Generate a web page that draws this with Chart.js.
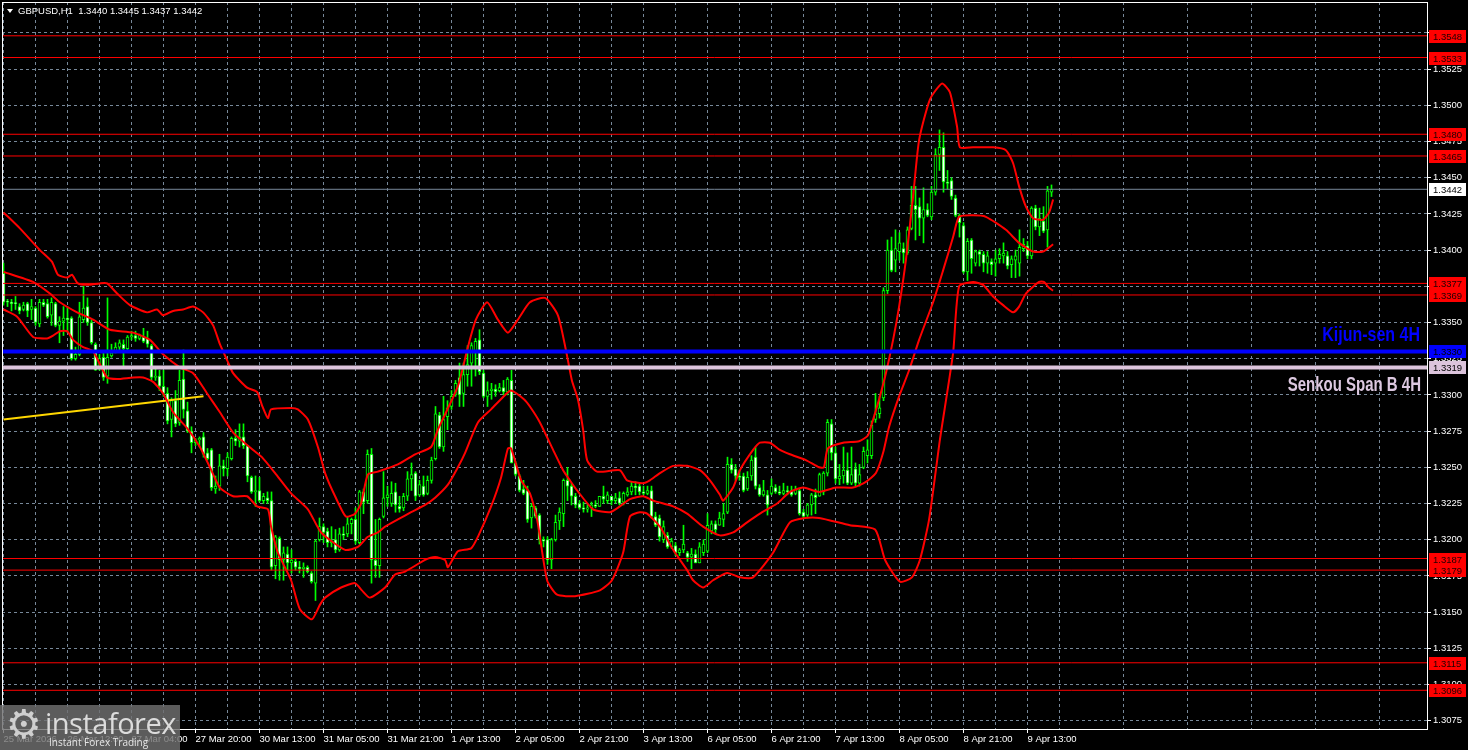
<!DOCTYPE html>
<html>
<head>
<meta charset="utf-8">
<script src="https://cdn.jsdelivr.net/npm/chart.js@4.4.1/dist/chart.umd.min.js"></script>
<style>
html, body { margin: 0; padding: 0; background: #000; }
#wrap { position: relative; width: 1468px; height: 750px; overflow: hidden; }
#logo { position: absolute; left: 0; top: 705px; width: 180px; height: 45px; background: rgba(112,112,112,0.82); }
#logo .gear { position: absolute; left: 6px; top: -4px; font: 40px "DejaVu Sans"; color: #cfcfcf; }
#logo .brand { position: absolute; left: 45px; top: -2px; font: 29px "Open Sans"; color: #dcdcdc; letter-spacing: -0.5px; }
#logo .tag { position: absolute; left: 49px; top: 30px; font: 10px "Open Sans"; color: #e6e6e6; }
</style>
</head>
<body>
<div id="wrap">
  <canvas id="myChart" width="1468" height="750"></canvas>
  <div id="logo"><span class="gear">&#9881;</span><span class="brand">instaforex</span><span class="tag">Instant Forex Trading</span></div>
</div>
<script>
// GBPUSD H1, one entry per bar
var opens = [
1.3384,1.3364,1.3364,1.3363,1.3361,1.3359,1.3363,1.3359,1.3360,1.3349,
1.3364,1.3363,1.3355,1.3363,1.3348,1.3351,1.3353,1.3353,1.3325,1.3328,
1.3352,1.3361,1.3350,1.3335,1.3318,1.3326,1.3313,1.3327,1.3330,1.3333,
1.3335,1.3332,1.3340,1.3341,1.3339,1.3340,1.3339,1.3334,1.3312,1.3313,
1.3306,1.3301,1.3283,1.3296,1.3281,1.3311,1.3289,1.3275,1.3267,1.3269,
1.3271,1.3260,1.3262,1.3235,1.3237,1.3251,1.3249,1.3256,1.3270,1.3268,
1.3271,1.3265,1.3243,1.3233,1.3234,1.3227,1.3229,1.3227,1.3182,1.3201,
1.3186,1.3190,1.3184,1.3185,1.3181,1.3180,1.3181,1.3177,1.3170,1.3200,
1.3209,1.3206,1.3198,1.3200,1.3193,1.3204,1.3204,1.3211,1.3214,1.3198,
1.3233,1.3227,1.3259,1.3186,1.3182,1.3216,1.3229,1.3225,1.3233,1.3223,
1.3222,1.3230,1.3242,1.3246,1.3231,1.3237,1.3232,1.3241,1.3256,1.3286,
1.3264,1.3285,1.3292,1.3300,1.3312,1.3301,1.3314,1.3322,1.3330,1.3338,
1.3315,1.3299,1.3303,1.3304,1.3303,1.3305,1.3302,1.3310,1.3253,1.3244,
1.3235,1.3234,1.3215,1.3222,1.3217,1.3200,1.3200,1.3186,1.3200,1.3213,
1.3218,1.3241,1.3237,1.3230,1.3225,1.3222,1.3221,1.3222,1.3224,1.3223,
1.3230,1.3227,1.3230,1.3227,1.3229,1.3226,1.3231,1.3233,1.3237,1.3237,
1.3233,1.3232,1.3234,1.3216,1.3215,1.3200,1.3203,1.3195,1.3196,1.3191,
1.3193,1.3191,1.3188,1.3190,1.3184,1.3191,1.3192,1.3206,1.3211,1.3210,
1.3214,1.3219,1.3252,1.3249,1.3244,1.3244,1.3235,1.3244,1.3257,1.3236,
1.3231,1.3231,1.3232,1.3236,1.3233,1.3232,1.3234,1.3234,1.3232,1.3234,
1.3219,1.3217,1.3224,1.3231,1.3230,1.3233,1.3246,1.3280,1.3260,1.3242,
1.3244,1.3248,1.3239,1.3249,1.3239,1.3250,1.3258,1.3258,1.3283,1.3287,
1.3298,1.3372,1.3400,1.3393,1.3399,1.3401,1.3398,1.3415,1.3431,1.3430,
1.3422,1.3428,1.3423,1.3440,1.3466,1.3471,1.3447,1.3448,1.3436,1.3424,
1.3417,1.3385,1.3407,1.3391,1.3399,1.3397,1.3391,1.3392,1.3391,1.3394,
1.3396,1.3396,1.3390,1.3393,1.3391,1.3401,1.3403,1.3396,1.3429,1.3416,
1.3420,1.3414,1.3440];
var highs = [
1.3391,1.3366,1.3366,1.3368,1.3363,1.3364,1.3364,1.3366,1.3361,1.3366,
1.3366,1.3366,1.3367,1.3364,1.3354,1.3361,1.3361,1.3354,1.3333,1.3364,
1.3375,1.3367,1.3352,1.3336,1.3328,1.3329,1.3367,1.3335,1.3336,1.3338,
1.3338,1.3341,1.3344,1.3344,1.3342,1.3346,1.3344,1.3335,1.3318,1.3317,
1.3317,1.3305,1.3298,1.3303,1.3317,1.3331,1.3295,1.3278,1.3270,1.3271,
1.3274,1.3263,1.3263,1.3244,1.3259,1.3255,1.3260,1.3271,1.3276,1.3280,
1.3280,1.3265,1.3244,1.3244,1.3243,1.3232,1.3233,1.3233,1.3203,1.3202,
1.3195,1.3195,1.3193,1.3187,1.3185,1.3184,1.3182,1.3178,1.3200,1.3215,
1.3211,1.3208,1.3209,1.3207,1.3208,1.3209,1.3216,1.3215,1.3222,1.3234,
1.3235,1.3262,1.3263,1.3214,1.3215,1.3247,1.3237,1.3240,1.3239,1.3230,
1.3232,1.3247,1.3253,1.3247,1.3241,1.3244,1.3244,1.3257,1.3292,1.3288,
1.3299,1.3296,1.3303,1.3310,1.3322,1.3322,1.3334,1.3336,1.3339,1.3345,
1.3317,1.3309,1.3308,1.3307,1.3308,1.3310,1.3312,1.3317,1.3254,1.3245,
1.3241,1.3237,1.3225,1.3223,1.3218,1.3202,1.3202,1.3201,1.3217,1.3222,
1.3242,1.3250,1.3239,1.3232,1.3227,1.3226,1.3225,1.3226,1.3227,1.3230,
1.3237,1.3233,1.3230,1.3232,1.3233,1.3233,1.3236,1.3240,1.3240,1.3239,
1.3237,1.3237,1.3237,1.3219,1.3217,1.3213,1.3205,1.3201,1.3198,1.3194,
1.3210,1.3192,1.3194,1.3193,1.3198,1.3200,1.3218,1.3213,1.3213,1.3219,
1.3225,1.3257,1.3256,1.3252,1.3248,1.3246,1.3247,1.3258,1.3264,1.3238,
1.3241,1.3234,1.3242,1.3238,1.3237,1.3239,1.3237,1.3237,1.3237,1.3235,
1.3221,1.3225,1.3232,1.3235,1.3246,1.3247,1.3283,1.3283,1.3264,1.3252,
1.3264,1.3260,1.3264,1.3253,1.3252,1.3264,1.3269,1.3282,1.3301,1.3299,
1.3374,1.3407,1.3409,1.3414,1.3412,1.3405,1.3416,1.3444,1.3444,1.3436,
1.3443,1.3432,1.3444,1.3470,1.3483,1.3481,1.3455,1.3450,1.3438,1.3425,
1.3419,1.3408,1.3408,1.3400,1.3400,1.3399,1.3399,1.3394,1.3400,1.3401,
1.3405,1.3399,1.3396,1.3400,1.3414,1.3408,1.3406,1.3430,1.3431,1.3429,
1.3430,1.3444,1.3445];
var lows = [
1.3362,1.3361,1.3358,1.3359,1.3356,1.3358,1.3354,1.3352,1.3348,1.3347,
1.3361,1.3353,1.3348,1.3347,1.3336,1.3341,1.3343,1.3324,1.3324,1.3327,
1.3350,1.3348,1.3335,1.3317,1.3317,1.3310,1.3308,1.3326,1.3329,1.3330,
1.3320,1.3331,1.3338,1.3337,1.3338,1.3336,1.3333,1.3310,1.3310,1.3303,
1.3299,1.3280,1.3271,1.3278,1.3279,1.3284,1.3274,1.3260,1.3265,1.3264,
1.3257,1.3255,1.3234,1.3232,1.3234,1.3244,1.3244,1.3255,1.3265,1.3264,
1.3263,1.3240,1.3232,1.3223,1.3226,1.3225,1.3225,1.3179,1.3173,1.3172,
1.3172,1.3179,1.3177,1.3179,1.3177,1.3174,1.3177,1.3170,1.3158,1.3199,
1.3198,1.3195,1.3195,1.3191,1.3192,1.3200,1.3202,1.3204,1.3197,1.3197,
1.3218,1.3225,1.3170,1.3174,1.3174,1.3215,1.3223,1.3223,1.3219,1.3219,
1.3220,1.3227,1.3234,1.3227,1.3230,1.3230,1.3231,1.3239,1.3255,1.3263,
1.3261,1.3276,1.3290,1.3299,1.3292,1.3292,1.3306,1.3306,1.3313,1.3314,
1.3298,1.3292,1.3297,1.3299,1.3302,1.3300,1.3300,1.3253,1.3244,1.3233,
1.3231,1.3212,1.3208,1.3215,1.3197,1.3195,1.3183,1.3180,1.3199,1.3207,
1.3209,1.3227,1.3224,1.3222,1.3221,1.3219,1.3219,1.3216,1.3222,1.3223,
1.3225,1.3225,1.3224,1.3225,1.3224,1.3224,1.3230,1.3231,1.3231,1.3231,
1.3231,1.3231,1.3215,1.3209,1.3199,1.3198,1.3194,1.3194,1.3189,1.3189,
1.3191,1.3185,1.3180,1.3184,1.3184,1.3189,1.3191,1.3204,1.3204,1.3210,
1.3209,1.3218,1.3246,1.3241,1.3241,1.3233,1.3234,1.3241,1.3235,1.3230,
1.3230,1.3217,1.3231,1.3232,1.3231,1.3231,1.3231,1.3230,1.3231,1.3217,
1.3215,1.3216,1.3217,1.3218,1.3230,1.3231,1.3244,1.3255,1.3239,1.3238,
1.3239,1.3238,1.3238,1.3237,1.3237,1.3249,1.3253,1.3256,1.3281,1.3284,
1.3296,1.3370,1.3385,1.3385,1.3393,1.3391,1.3397,1.3414,1.3407,1.3410,
1.3405,1.3423,1.3421,1.3438,1.3455,1.3440,1.3442,1.3435,1.3423,1.3409,
1.3384,1.3379,1.3384,1.3389,1.3389,1.3385,1.3384,1.3383,1.3382,1.3391,
1.3391,1.3387,1.3381,1.3381,1.3382,1.3399,1.3394,1.3394,1.3414,1.3410,
1.3412,1.3402,1.3437];
var closes = [
1.3364,1.3364,1.3363,1.3363,1.3358,1.3362,1.3358,1.3361,1.3350,1.3364,
1.3362,1.3354,1.3364,1.3348,1.3351,1.3353,1.3352,1.3325,1.3328,1.3354,
1.3360,1.3350,1.3336,1.3317,1.3325,1.3312,1.3326,1.3329,1.3333,1.3336,
1.3332,1.3340,1.3341,1.3339,1.3341,1.3337,1.3335,1.3312,1.3313,1.3306,
1.3301,1.3282,1.3296,1.3280,1.3310,1.3290,1.3275,1.3267,1.3269,1.3270,
1.3259,1.3256,1.3236,1.3237,1.3251,1.3249,1.3257,1.3270,1.3268,1.3271,
1.3265,1.3244,1.3233,1.3234,1.3227,1.3230,1.3227,1.3181,1.3202,1.3186,
1.3191,1.3184,1.3186,1.3181,1.3180,1.3181,1.3178,1.3171,1.3199,1.3209,
1.3205,1.3198,1.3199,1.3193,1.3204,1.3203,1.3211,1.3214,1.3199,1.3233,
1.3226,1.3259,1.3186,1.3182,1.3214,1.3229,1.3231,1.3232,1.3224,1.3221,
1.3230,1.3242,1.3245,1.3230,1.3238,1.3231,1.3241,1.3255,1.3287,1.3264,
1.3283,1.3291,1.3299,1.3308,1.3300,1.3314,1.3321,1.3334,1.3337,1.3316,
1.3299,1.3303,1.3304,1.3302,1.3305,1.3302,1.3311,1.3253,1.3245,1.3234,
1.3232,1.3214,1.3223,1.3216,1.3200,1.3199,1.3186,1.3200,1.3212,1.3219,
1.3241,1.3237,1.3230,1.3224,1.3222,1.3221,1.3222,1.3224,1.3223,1.3230,
1.3228,1.3231,1.3227,1.3229,1.3225,1.3232,1.3233,1.3237,1.3236,1.3233,
1.3232,1.3234,1.3216,1.3210,1.3202,1.3209,1.3195,1.3199,1.3191,1.3193,
1.3197,1.3188,1.3190,1.3184,1.3195,1.3197,1.3210,1.3211,1.3207,1.3215,
1.3218,1.3252,1.3248,1.3244,1.3243,1.3234,1.3243,1.3255,1.3237,1.3231,
1.3234,1.3224,1.3237,1.3233,1.3232,1.3234,1.3233,1.3231,1.3235,1.3218,
1.3216,1.3224,1.3231,1.3229,1.3245,1.3246,1.3281,1.3260,1.3242,1.3244,
1.3248,1.3239,1.3245,1.3239,1.3245,1.3261,1.3262,1.3279,1.3287,1.3291,
1.3372,1.3400,1.3386,1.3401,1.3405,1.3398,1.3414,1.3431,1.3428,1.3422,
1.3428,1.3424,1.3440,1.3466,1.3471,1.3447,1.3446,1.3437,1.3424,1.3419,
1.3385,1.3406,1.3394,1.3399,1.3397,1.3391,1.3396,1.3390,1.3394,1.3397,
1.3398,1.3389,1.3394,1.3396,1.3402,1.3404,1.3396,1.3429,1.3416,1.3422,
1.3413,1.3441,1.3442];

// Bollinger bands, [bar, price]
var upperBand = [[0,1.3426],[4.1,1.3415],[9.1,1.3400],[12.1,1.3392],[13.6,1.3383],[15.9,1.3381],[17.1,1.3383],[18.6,1.3377],[20.9,1.3376],[24.1,1.3377],[25.9,1.3377],[28.4,1.3370],[31.6,1.3362],[35.9,1.3357],[38.4,1.3359],[39.9,1.3355],[42.4,1.3358],[44.9,1.3359],[47.4,1.3361],[49.9,1.3357],[52.4,1.3348],[54.1,1.3335],[55.9,1.3324],[57.4,1.3315],[60.9,1.3305],[63.4,1.3302],[64.6,1.3293],[66.1,1.3284],[66.9,1.3290],[71.9,1.3291],[73.6,1.3290],[76.1,1.3283],[78.6,1.3264],[80.4,1.3246],[82.9,1.3230],[85.6,1.3216],[87.9,1.3218],[89.4,1.3225],[91.1,1.3245],[93.6,1.3247],[98.6,1.3252],[102.9,1.3259],[106.9,1.3264],[108.6,1.3276],[113.6,1.3306],[116.1,1.3333],[118.1,1.3352],[120.9,1.3364],[123.6,1.3352],[126.1,1.3343],[128.6,1.3352],[131.6,1.3364],[135.4,1.3367],[138.6,1.3355],[140.6,1.3331],[142.1,1.3310],[143.6,1.3297],[144.9,1.3276],[145.9,1.3255],[148.4,1.3247],[154.1,1.3248],[155.9,1.3241],[159.9,1.3239],[161.6,1.3241],[164.1,1.3246],[167.4,1.3251],[170.9,1.3251],[174.1,1.3248],[176.6,1.3241],[179.1,1.3231],[179.9,1.3227],[182.4,1.3236],[184.1,1.3248],[187.4,1.3262],[189.1,1.3267],[191.6,1.3267],[194.1,1.3262],[196.6,1.3259],[200.6,1.3255],[203.9,1.3250],[205.1,1.3250],[206.1,1.3263],[209.9,1.3267],[213.9,1.3268],[216.1,1.3272],[217.4,1.3283],[218.9,1.3297],[220.6,1.3315],[222.4,1.3338],[223.9,1.3361],[225.6,1.3393],[227.4,1.3437],[228.9,1.3476],[231.6,1.3504],[234.6,1.3515],[236.6,1.3509],[238.4,1.3485],[239.1,1.3471],[242.4,1.3471],[247.4,1.3471],[250.6,1.3469],[252.4,1.3460],[253.9,1.3444],[255.6,1.3430],[257.4,1.3422],[259.9,1.3421],[261.4,1.3426],[262.4,1.3435]];
var middleBand = [[0,1.3385],[7.4,1.3378],[11.6,1.3370],[14.1,1.3364],[18.4,1.3357],[22.4,1.3352],[26.6,1.3345],[32.4,1.3343],[36.6,1.3338],[39.9,1.3328],[44.1,1.3319],[47.4,1.3315],[50.9,1.3301],[54.1,1.3288],[57.4,1.3274],[62.4,1.3262],[64.6,1.3257],[67.9,1.3246],[71.9,1.3232],[76.1,1.3221],[79.4,1.3205],[85.4,1.3193],[88.6,1.3195],[91.1,1.3202],[93.6,1.3205],[95.4,1.3209],[98.6,1.3214],[101.9,1.3219],[105.4,1.3224],[107.9,1.3229],[111.1,1.3238],[113.6,1.3250],[115.4,1.3260],[118.6,1.3281],[121.9,1.3290],[125.4,1.3300],[126.9,1.3303],[130.1,1.3297],[131.6,1.3292],[134.1,1.3281],[137.4,1.3262],[139.9,1.3248],[141.6,1.3241],[143.4,1.3234],[147.4,1.3221],[151.6,1.3219],[154.1,1.3223],[156.6,1.3228],[159.9,1.3230],[162.4,1.3227],[167.4,1.3223],[170.9,1.3218],[174.9,1.3209],[179.1,1.3203],[182.4,1.3205],[185.9,1.3212],[189.1,1.3218],[193.4,1.3225],[196.6,1.3233],[199.9,1.3236],[203.9,1.3233],[208.1,1.3236],[212.4,1.3236],[215.6,1.3240],[218.1,1.3246],[219.9,1.3260],[221.4,1.3278],[223.9,1.3299],[226.4,1.3317],[228.9,1.3338],[232.4,1.3364],[234.9,1.3386],[237.4,1.3409],[238.9,1.3423],[242.4,1.3424],[245.6,1.3423],[250.6,1.3414],[253.9,1.3405],[257.4,1.3399],[259.9,1.3399],[262.4,1.3404]];
var lowerBand = [[0,1.3359],[3.4,1.3354],[7.4,1.3340],[10.9,1.3339],[12.4,1.3341],[14.1,1.3344],[15.9,1.3344],[17.4,1.3338],[19.9,1.3333],[22.4,1.3330],[25.9,1.3312],[28.4,1.3311],[32.4,1.3312],[34.9,1.3312],[37.4,1.3309],[39.9,1.3301],[42.4,1.3288],[45.9,1.3277],[49.1,1.3264],[51.6,1.3250],[54.1,1.3236],[57.4,1.3230],[60.9,1.3230],[63.4,1.3223],[66.1,1.3221],[66.9,1.3209],[68.6,1.3191],[71.9,1.3172],[74.1,1.3152],[77.1,1.3145],[79.1,1.3155],[80.4,1.3160],[84.4,1.3167],[87.9,1.3170],[89.6,1.3165],[91.6,1.3160],[95.4,1.3167],[97.9,1.3176],[100.4,1.3178],[105.4,1.3186],[107.9,1.3188],[110.4,1.3186],[111.1,1.3181],[113.6,1.3192],[116.9,1.3194],[118.6,1.3202],[121.9,1.3223],[124.4,1.3243],[126.1,1.3263],[126.9,1.3263],[129.4,1.3241],[131.6,1.3232],[133.4,1.3214],[135.9,1.3172],[138.4,1.3162],[142.9,1.3161],[149.1,1.3165],[152.1,1.3172],[154.9,1.3191],[156.6,1.3216],[159.1,1.3219],[160.9,1.3218],[164.1,1.3209],[167.4,1.3193],[170.9,1.3179],[172.4,1.3172],[174.9,1.3167],[177.4,1.3172],[180.9,1.3177],[184.1,1.3174],[187.4,1.3174],[192.4,1.3191],[196.6,1.3212],[200.4,1.3215],[203.9,1.3215],[211.6,1.3210],[217.9,1.3207],[220.4,1.3186],[224.1,1.3171],[227.1,1.3174],[229.1,1.3186],[231.4,1.3214],[234.1,1.3269],[237.4,1.3329],[238.9,1.3375],[242.4,1.3378],[244.9,1.3376],[247.4,1.3368],[249.9,1.3362],[252.4,1.3357],[253.9,1.3361],[255.6,1.3370],[258.9,1.3378],[260.1,1.3378],[261.4,1.3374],[262.4,1.3372]];
var yellowLine = [[0,1.3283],[50,1.3299]];

var redLevels = [1.3548, 1.3533, 1.3480, 1.3465, 1.3377, 1.3369, 1.3187, 1.3179, 1.3115, 1.3096];
var kijunLevel = 1.3330;
var senkouLevel = 1.3319;

var priceTicks = [1.3075,1.3100,1.3125,1.3150,1.3175,1.3200,1.3225,1.3250,1.3275,1.3300,1.3325,1.3350,1.3375,1.3400,1.3425,1.3450,1.3475,1.3500,1.3525,1.3550];
var timeTicks = ["25 Mar 2026","26 Mar 12:00","27 Mar 04:00","27 Mar 20:00","30 Mar 13:00","31 Mar 05:00","31 Mar 21:00","1 Apr 13:00","2 Apr 05:00","2 Apr 21:00","3 Apr 13:00","6 Apr 05:00","6 Apr 21:00","7 Apr 13:00","8 Apr 05:00","8 Apr 21:00","9 Apr 13:00"];

var axisFont = { family: 'Liberation Sans', size: 9.5 };
var last = closes.length - 1;

function pts(list) {
    return list.map(function (p) { return { x: p[0], y: p[1] }; });
}
function hline(v, color, width) {
    return { type: 'line', data: [{ x: -5, y: v }, { x: 400, y: v }], borderColor: color,
             borderWidth: width, pointRadius: 0, order: 0 };
}

var wicks = [], bodies = [], bodyColors = [];
for (var i = 0; i < closes.length; i++) {
    wicks.push({ x: i, y: [lows[i], highs[i]] });
    bodies.push({ x: i, y: [opens[i], closes[i]] });
    bodyColors.push(closes[i] > opens[i] ? '#000000' : '#ffffff');
}

var datasets = [
    { type: 'bar', data: wicks, backgroundColor: '#00ff00', borderWidth: 0, barThickness: 1, grouped: false, order: 4 },
    { type: 'bar', data: bodies, backgroundColor: bodyColors, borderColor: '#00ff00', borderWidth: 1,
      borderSkipped: false, barThickness: 3, minBarLength: 1, grouped: false, order: 3 },
    { type: 'line', data: pts(upperBand), borderColor: '#ff0000', borderWidth: 2, pointRadius: 0, tension: 0.2, order: 2 },
    { type: 'line', data: pts(middleBand), borderColor: '#ff0000', borderWidth: 2, pointRadius: 0, tension: 0.2, order: 2 },
    { type: 'line', data: pts(lowerBand), borderColor: '#ff0000', borderWidth: 2, pointRadius: 0, tension: 0.2, order: 2 },
    { type: 'line', data: pts(yellowLine), borderColor: '#ffd700', borderWidth: 2, pointRadius: 0, order: 2 },
    hline(closes[last], '#778899', 1),
    hline(kijunLevel, '#0000ff', 4),
    hline(senkouLevel, '#dcc4dc', 4)
];
redLevels.forEach(function (v) { datasets.push(hline(v, '#ff0000', 1)); });

var overlay = {
    id: 'overlay',
    afterDraw: function (chart) {
        var ctx = chart.ctx, a = chart.chartArea, ys = chart.scales.y;
        ctx.save();
        ctx.strokeStyle = '#ffffff';
        ctx.lineWidth = 1;
        ctx.strokeRect(a.left + 0.5, a.top + 0.5, a.right - a.left, a.bottom - a.top);

        // title
        ctx.fillStyle = '#ffffff';
        ctx.beginPath();
        ctx.moveTo(7, 9); ctx.lineTo(13, 9); ctx.lineTo(10, 13); ctx.closePath(); ctx.fill();
        ctx.font = '9.5px "Liberation Sans"';
        ctx.textBaseline = 'middle';
        ctx.textAlign = 'left';
        ctx.fillText('GBPUSD,H1  ' + opens[last].toFixed(4) + ' ' + highs[last].toFixed(4) + ' ' +
                     lows[last].toFixed(4) + ' ' + closes[last].toFixed(4), 18, 11);

        // price tags on the right scale
        ctx.font = '9.5px "Liberation Sans"';
        function tag(v, bg, fg) {
            var py = Math.round(ys.getPixelForValue(v));
            ctx.fillStyle = bg;
            ctx.fillRect(a.right + 2, py - 6, 37, 13);
            ctx.fillStyle = fg;
            ctx.fillText(v.toFixed(4), a.right + 6, py + 1);
        }
        redLevels.forEach(function (v) { tag(v, '#ff0000', '#200000'); });
        tag(kijunLevel, '#0000ff', '#000000');
        tag(senkouLevel, '#dcc4dc', '#000000');
        tag(closes[last], '#ffffff', '#000000');

        // line captions
        ctx.textAlign = 'right';
        ctx.textBaseline = 'alphabetic';
        ctx.save();
        ctx.translate(a.right - 7, ys.getPixelForValue(kijunLevel) - 10);
        ctx.scale(1, 1.22);
        ctx.font = 'bold 16px "Liberation Sans"';
        ctx.fillStyle = '#0000ff';
        ctx.fillText('Kijun-sen 4H', 0, 0);
        ctx.restore();
        ctx.save();
        ctx.translate(a.right - 6, ys.getPixelForValue(senkouLevel) + 24);
        ctx.scale(1, 1.3);
        ctx.font = 'bold 15px "Liberation Sans"';
        ctx.fillStyle = '#dcc8e0';
        ctx.fillText('Senkou Span B 4H', 0, 0);
        ctx.restore();
        ctx.restore();
    }
};

var ctx = document.getElementById('myChart');
var myChart = new Chart(ctx, {
    type: 'bar',
    data: { datasets: datasets },
    options: {
        responsive: false,
        animation: false,
        devicePixelRatio: 1,
        layout: { padding: { left: 2, top: 2, right: 0, bottom: 0 } },
        plugins: { legend: { display: false }, tooltip: { enabled: false } },
        scales: {
            x: {
                type: 'linear',
                min: -0.375,
                max: 355.875,
                offset: false,
                grid: {
                    offset: false,
                    color: '#778899',
                    tickLength: 4,
                    tickBorderDash: [],
                    tickColor: function (c) { return c.tick && c.tick.value % 16 === 0 ? '#ffffff' : 'rgba(0,0,0,0)'; }
                },
                border: { display: false, dash: [3, 3] },
                afterBuildTicks: function (axis) {
                    var t = [];
                    for (var k = 0; k <= 352; k += 8) t.push({ value: k });
                    axis.ticks = t;
                },
                afterFit: function (s) { s.height = 21; s.paddingLeft = 0; s.paddingRight = 0; },
                ticks: {
                    color: '#ffffff', font: axisFont, maxRotation: 0, autoSkip: false, align: 'start', padding: 1,
                    callback: function (v) { return v % 16 === 0 ? timeTicks[v / 16] : ''; }
                }
            },
            y: {
                type: 'linear',
                position: 'right',
                min: 1.306927,
                max: 1.357134,
                grid: { color: '#778899', tickLength: 4, tickBorderDash: [], tickColor: '#ffffff' },
                border: { display: false, dash: [3, 3] },
                afterBuildTicks: function (axis) {
                    axis.ticks = priceTicks.map(function (v) { return { value: v }; });
                },
                afterFit: function (s) { s.width = 41; s.paddingTop = 0; s.paddingBottom = 0; },
                ticks: {
                    color: '#ffffff', font: axisFont, padding: 2,
                    callback: function (v) { return v.toFixed(4); }
                }
            }
        }
    },
    plugins: [overlay]
});
</script>
</body>
</html>
